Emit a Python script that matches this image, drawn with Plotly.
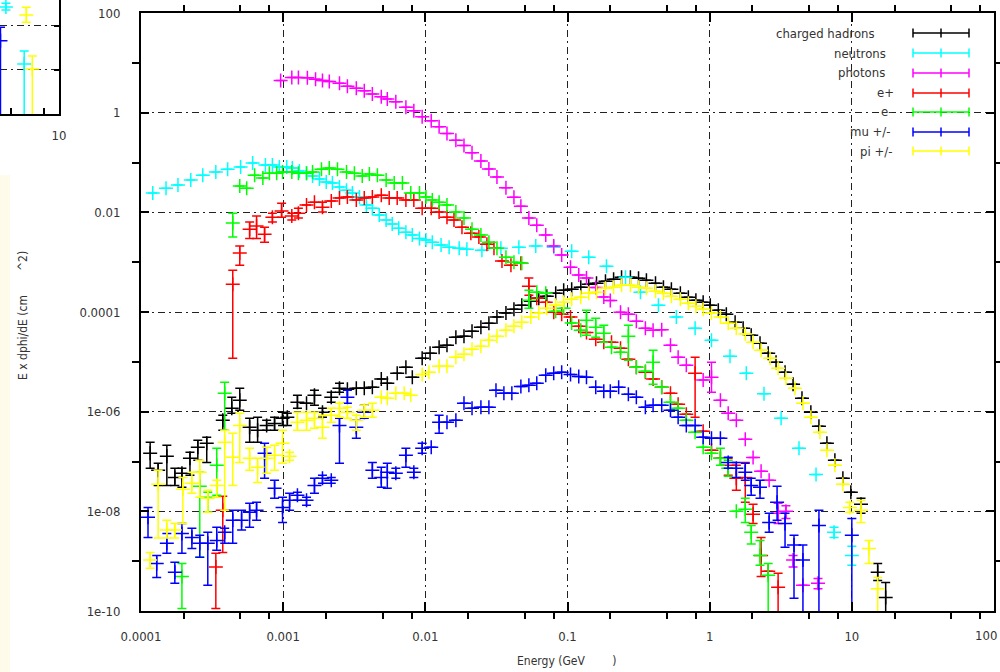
import plotly.graph_objects as go

# ---------------- data (E in GeV, flux E x dphi/dE) ----------------
# each series: energy, value, upper end of error bar, lower end (None = no visible bar)
had_E = [1.16e-4, 1.32e-4, 1.52e-4, 1.73e-4, 1.94e-4, 2.21e-4, 2.51e-4, 2.90e-4, 3.76e-4, 4.35e-4,
         4.95e-4, 5.81e-4, 6.61e-4, 7.65e-4, 8.7e-4, 9.9e-4, 1.07e-3, 1.26e-3, 1.46e-3, 1.66e-3,
         1.89e-3, 2.18e-3, 2.49e-3, 2.83e-3, 3.27e-3, 3.72e-3, 4.24e-3, 4.9e-3, 5.4e-3, 6.34e-3,
         7.3e-3, 8.1e-3, 9.5e-3, 0.0108, 0.0125, 0.0142, 0.0164, 0.0187, 0.0213, 0.0246,
         0.028, 0.0319, 0.0369, 0.042, 0.0477, 0.0552, 0.0628, 0.0715, 0.0826, 0.094,
         0.107, 0.124, 0.141, 0.160, 0.185, 0.211, 0.240, 0.277, 0.316, 0.359,
         0.416, 0.473, 0.538, 0.622, 0.708, 0.80, 0.90, 1.01, 1.15, 1.31,
         1.51, 1.72, 1.96, 2.26, 2.58, 2.93, 3.39, 3.86, 4.46, 5.15,
         5.87, 6.68, 7.6, 8.65, 9.84, 11.6, 15.2, 17.3]
had_V = [1.46e-7, 6.65e-8, 1.27e-7, 4.8e-8, 5.8e-8, 1.16e-7, 1.93e-7, 2.32e-7, 6.7e-7, 1.17e-6,
         1.69e-6, 4.86e-7, 4.24e-7, 5.3e-7, 5.8e-7, 7.4e-7, 7.7e-7, 1.55e-6, 1.48e-6, 2.13e-6,
         9.7e-7, 1.95e-6, 2.95e-6, 2.82e-6, 2.95e-6, 2.95e-6, 3.09e-6, 4.5e-6, 3.7e-6, 5.9e-6,
         7.8e-6, 4.9e-6, 1.18e-5, 1.49e-5, 1.96e-5, 2.15e-5, 3.12e-5, 3.27e-5, 4.1e-5, 4.95e-5,
         5.96e-5, 7.9e-5, 9.5e-5, 1.14e-4, 1.37e-4, 1.65e-4, 1.89e-4, 2.07e-4, 2.39e-4, 2.74e-4,
         2.87e-4, 3.15e-4, 3.61e-4, 3.79e-4, 4.15e-4, 4.56e-4, 5.0e-4, 5.0e-4, 4.77e-4, 4.35e-4,
         3.79e-4, 3.15e-4, 2.87e-4, 2.39e-4, 1.98e-4, 1.72e-4, 1.57e-4, 1.37e-4, 1.09e-4, 9.0e-5,
         6.2e-5, 4.73e-5, 3.42e-5, 2.36e-5, 1.49e-5, 9.8e-6, 6.2e-6, 3.55e-6, 1.86e-6, 9.7e-7,
         5.1e-7, 2.32e-7, 1.06e-7, 4.6e-8, 2.41e-8, 1.38e-8, 6.0e-10, 1.87e-10]
had_HI = [2.43e-7, 9.2e-8, 2.11e-7, 7.3e-8, 7.3e-8, 1.53e-7, 2.67e-7, 3.06e-7, 8.5e-7, 1.95e-6,
          2.95e-6, 7.4e-7, 7.7e-7, 6.7e-7, 7.7e-7, 9.7e-7, 9.3e-7, 2.13e-6, None, 2.69e-6,
          1.17e-6, 2.45e-6, 3.7e-6] + [None] * 62 + [1.82e-8, 9.0e-10, 3.75e-10]
had_LO = [7.3e-8, 3.3e-8, 3.3e-8, 3.3e-8, 3.03e-8, 5.3e-8, 1.06e-7, 9.6e-8, 4.24e-7, 9.3e-7,
          1.07e-6, 2.43e-7, 2.43e-7, 4.24e-7, 4.24e-7, 5.3e-7, 5.3e-7, 1.17e-6, None, 1.35e-6,
          7.7e-7, 1.55e-6, 2.45e-6] + [None] * 62 + [9.1e-9, 4.1e-10, 1e-12]

neu_E = [1.21e-4, 1.50e-4, 1.82e-4, 2.24e-4, 2.72e-4, 3.36e-4, 4.07e-4, 5.02e-4, 6.1e-4, 7.5e-4,
         8.4e-4, 9.4e-4, 1.06e-3, 1.16e-3, 1.30e-3, 1.46e-3, 1.61e-3, 1.80e-3, 2.01e-3, 2.22e-3,
         2.49e-3, 2.79e-3, 3.07e-3, 3.44e-3, 3.85e-3, 4.24e-3, 4.74e-3, 5.3e-3, 5.85e-3, 6.5e-3,
         7.3e-3, 8.1e-3, 9.1e-3, 0.0101, 0.0112, 0.0129, 0.0147, 0.0173, 0.0196, 0.025,
         0.034, 0.0455, 0.0598, 0.08, 0.107, 0.141, 0.188, 0.256, 0.326, 0.436,
         0.583, 0.79, 1.03, 1.39, 1.81, 2.41, 3.18, 4.25, 5.6, 7.5, 10.0]
neu_V = [0.0243, 0.0306, 0.0352, 0.0443, 0.0558, 0.0641, 0.0736, 0.0809, 0.0973, 0.0887,
         0.0887, 0.0809, 0.0809, 0.0772, 0.0672, 0.0612, 0.0533, 0.0464, 0.0404, 0.0386,
         0.0321, 0.0279, 0.0243, 0.0202, 0.0140, 0.0121, 0.0088, 0.0070, 0.0058, 0.0048,
         0.0040, 0.0035, 0.0030, 0.0028, 0.0025, 0.0022, 0.0020, 0.0019, 0.00182, 0.00174,
         0.0019, 0.0020, 0.0021, 0.0020, 0.00166, 0.00126, 8.3e-4, 5.0e-4, 2.5e-4, 1.37e-4,
         7.9e-5, 4.7e-5, 2.7e-5, 1.3e-5, 5.9e-6, 2.3e-6, 7.4e-7, 1.84e-7, 5.5e-8, 3.8e-9, 1.3e-9]
neu_HI = [None] * 59 + [4.8e-9, 2.0e-9]
neu_LO = [None] * 59 + [3.0e-9, 8.3e-10]

pho_E = [9.6e-4, 1.15e-3, 1.28e-3, 1.48e-3, 1.69e-3, 1.89e-3, 2.11e-3, 2.49e-3, 2.83e-3, 3.27e-3,
         3.72e-3, 4.24e-3, 4.9e-3, 5.4e-3, 6.2e-3, 7.3e-3, 8.3e-3, 9.5e-3, 0.011, 0.0125,
         0.0142, 0.0164, 0.0187, 0.0213, 0.0246, 0.028, 0.0319, 0.0369, 0.042, 0.047,
         0.0535, 0.0608, 0.0703, 0.08, 0.091, 0.105, 0.12, 0.136, 0.158, 0.18,
         0.20, 0.236, 0.268, 0.305, 0.353, 0.40, 0.46, 0.53, 0.60, 0.685,
         0.90, 1.03, 1.19, 1.35, 1.54, 1.78, 2.02, 2.30, 2.62, 3.03,
         3.44, 3.86, 4.53, 5.78]
pho_V = [4.4, 5.1, 5.1, 5.0, 4.7, 4.4, 4.2, 3.9, 3.4, 3.1,
         2.75, 2.36, 2.08, 1.87, 1.66, 1.28, 1.09, 0.83, 0.69, 0.52,
         0.38, 0.28, 0.22, 0.157, 0.107, 0.074, 0.051, 0.031, 0.020, 0.0133,
         0.0077, 0.0055, 0.0035, 0.0021, 0.0014, 7.9e-4, 5.5e-4, 4.8e-4, 3.1e-4, 2.0e-4,
         1.7e-4, 9.9e-5, 9.0e-5, 6.5e-5, 4.7e-5, 4.3e-5, 4.4e-5, 2.15e-5, 1.24e-5, 8.5e-6,
         4.3e-6, 4.9e-6, 1.7e-6, 9.3e-7, 6.7e-7, 2.8e-7, 1.2e-7, 6.4e-8, 4.2e-8, 9.1e-9,
         1.0e-8, 1.05e-9, 3.3e-10, 3.6e-10]
pho_HI = [None] * 51 + [9.8e-6] + [None] * 7 + [1.45e-8, 1.3e-8, 1.3e-9, None, 4.5e-10]
pho_LO = [None] * 51 + [2.45e-6] + [None] * 7 + [5.7e-9, 7.2e-9, 7.6e-10, None, 2.8e-10]

ep_E = [3.36e-4, 3.76e-4, 4.42e-4, 4.95e-4, 5.81e-4, 6.5e-4, 7.4e-4, 8.4e-4, 9.75e-4, 1.15e-3,
        1.28e-3, 1.46e-3, 1.66e-3, 1.89e-3, 2.18e-3, 2.49e-3, 2.83e-3, 3.27e-3, 3.72e-3, 4.24e-3,
        4.9e-3, 5.57e-3, 6.34e-3, 7.3e-3, 8.3e-3, 9.5e-3, 0.011, 0.0125, 0.0142, 0.0159,
        0.0181, 0.0209, 0.0238, 0.0271, 0.0304, 0.0346, 0.040, 0.047, 0.0535, 0.0608,
        0.0703, 0.08, 0.091, 0.105, 0.12, 0.136, 0.158, 0.18, 0.204, 0.236,
        0.268, 0.305, 0.353, 0.40, 0.46, 0.53, 0.60, 0.685, 0.79, 0.90,
        1.03, 1.19, 1.35, 1.54, 1.78, 2.02, 2.30, 2.58, 3.03]
ep_V = [7.6e-10, 1.05e-8, 3.6e-4, 1.52e-3, 4.6e-3, 5.3e-3, 3.65e-3, 8.0e-3, 0.0106, 8.4e-3,
        9.6e-3, 0.014, 0.016, 0.0127, 0.0168, 0.0193, 0.0202, 0.0176, 0.0193, 0.0202,
        0.0221, 0.0193, 0.0193, 0.0176, 0.0176, 0.0121, 0.0121, 0.0101, 8.0e-3, 7.0e-3,
        5.0e-3, 3.8e-3, 3.2e-3, 2.3e-3, 1.9e-3, 1.05e-3, 8.7e-4, 9.5e-4, 3.3e-4, 1.89e-4,
        1.57e-4, 9.9e-5, 9.0e-5, 7.9e-5, 5.2e-5, 3.9e-5, 2.84e-5, 2.48e-5, 2.48e-5, 1.87e-5,
        1.13e-5, 7.8e-6, 6.2e-6, 4.5e-6, 3.09e-6, 2.34e-6, 1.41e-6, 8.9e-7, 5.9e-6, 4.04e-7,
        1.68e-7, 1.16e-7, 8.4e-8, 4.6e-8, 4.8e-8, 8.7e-9, 1.3e-9, 6.3e-10, 3.0e-10]
ep_HI = [1.45e-9, 2.0e-8, 6.9e-4, 2.1e-3, 6.4e-3, 8.4e-3, 5.0e-3, 9.6e-3, 0.0153, 9.6e-3,
         0.0121, None, None, 0.016] + [None] * 24 + [4.8e-4] + [None] * 19 + [1.24e-5] + [None] * 3 + \
        [1.16e-7, 8.4e-8, 9.6e-8, 1.38e-8, 3.0e-9, None, 5.7e-10]
ep_LO = [1.12e-10, 1.5e-9, 1.18e-5, 8.7e-4, 3.0e-3, 3.0e-3, 2.5e-3, 6.4e-3, 8.0e-3, 7.0e-3,
         7.7e-3, None, None, 0.0101] + [None] * 24 + [2.17e-4] + [None] * 19 + [7.7e-7] + [None] * 3 + \
        [5.3e-8, 2.64e-8, 1.52e-8, 5.7e-9, 4.9e-10, None, 1e-12]

em_E = [1.94e-4, 2.59e-4, 2.95e-4, 3.41e-4, 3.88e-4, 4.42e-4, 4.95e-4, 5.54e-4, 6.3e-4, 7.2e-4,
        8.0e-4, 9.0e-4, 9.9e-4, 1.15e-3, 1.28e-3, 1.46e-3, 1.61e-3, 1.86e-3, 2.11e-3, 2.41e-3,
        2.79e-3, 3.17e-3, 3.6e-3, 4.04e-3, 4.6e-3, 5.3e-3, 6.04e-3, 6.9e-3, 7.9e-3, 9.1e-3,
        0.0101, 0.0112, 0.0125, 0.0142, 0.0164, 0.0187, 0.0213, 0.0246, 0.028, 0.0319,
        0.0369, 0.042, 0.0477, 0.0535, 0.0608, 0.0703, 0.0826, 0.094, 0.107, 0.124,
        0.136, 0.158, 0.18, 0.204, 0.236, 0.268, 0.305, 0.353, 0.40, 0.46,
        0.53, 0.60, 0.685, 0.79, 0.90, 1.03, 1.19, 1.35, 1.54, 1.78,
        1.96, 2.26, 2.58]
em_V = [4.95e-10, 3.18e-8, 1.91e-8, 8.4e-8, 2.34e-6, 6.1e-3, 0.0336, 0.0306, 0.0558, 0.0486,
        0.0612, 0.0612, 0.0641, 0.0641, 0.0612, 0.0612, 0.0641, 0.0736, 0.0772, 0.0736,
        0.0641, 0.0612, 0.0533, 0.0585, 0.0558, 0.0443, 0.0386, 0.0386, 0.0243, 0.0243,
        0.0202, 0.0176, 0.016, 0.014, 0.0101, 7.7e-3, 4.6e-3, 3.5e-3, 2.5e-3, 1.9e-3,
        1.26e-3, 1.0e-3, 9.5e-4, 1.72e-4, 2.5e-4, 2.39e-4, 1.04e-4, 1.19e-4, 6.0e-5, 4.3e-5,
        6.8e-5, 4.95e-5, 3.75e-5, 1.96e-5, 1.56e-5, 3.27e-5, 7.8e-6, 6.5e-6, 9.8e-6, 3.09e-6,
        1.55e-6, 1.17e-6, 6.7e-7, 3.86e-7, 1.93e-7, 1.46e-7, 1.16e-7, 7.3e-8, 1.0e-8, 1.1e-8,
        3.8e-9, 1.3e-9, 5.2e-10]
em_HI = [9.0e-10, 6.1e-8, 2.41e-8, 1.84e-7, 3.9e-6, 9.6e-3] + [None] * 37 + [2.74e-4] + [None] * 6 + \
        [1.09e-4, 7.5e-5, 5.4e-5, None, None, 5.4e-5, None, None, 1.71e-5] + [None] * 7 + \
        [1.84e-7, 1.06e-7, None, 1.82e-8, 5.2e-9, 2.6e-9, 9.0e-10]
em_LO = [1.12e-10, 1.2e-9, 9.6e-9, 2.1e-8, 4.24e-7, 3.2e-3] + [None] * 37 + [1.19e-4] + [None] * 6 + \
        [3.42e-5, 3.12e-5, 2.48e-5, None, None, 1.08e-5, None, None, 3.55e-6] + [None] * 7 + \
        [8.4e-8, 5.05e-8, None, 6.0e-9, 2.2e-9, 8.3e-10, 1e-12]

mu_E = [1.12e-4, 1.29e-4, 1.52e-4, 1.73e-4, 1.94e-4, 2.28e-4, 2.59e-4, 2.95e-4, 3.41e-4, 3.88e-4,
        4.42e-4, 5.1e-4, 5.81e-4, 6.5e-4, 7.4e-4, 8.7e-4, 9.9e-4, 1.11e-3, 1.26e-3, 1.46e-3,
        1.66e-3, 1.89e-3, 2.18e-3, 2.49e-3, 2.83e-3, 3.27e-3, 3.72e-3, 4.24e-3, 4.9e-3, 5.4e-3,
        6.2e-3, 7.3e-3, 8.3e-3, 9.5e-3, 0.011, 0.0125, 0.0142, 0.0164, 0.0187, 0.0213,
        0.0246, 0.028, 0.0314, 0.0357, 0.0406, 0.047, 0.0535, 0.0608, 0.0703, 0.08,
        0.091, 0.105, 0.12, 0.136, 0.158, 0.18, 0.20, 0.229, 0.268, 0.305,
        0.353, 0.40, 0.46, 0.53, 0.60, 0.685, 0.79, 0.90, 1.03, 1.19,
        1.35, 1.54, 1.78, 1.96, 2.26, 2.62, 2.98, 3.39, 3.92, 4.53,
        5.87, 10.0]
mu_V = [7.6e-9, 9.0e-10, 2.3e-9, 6.0e-10, 3.6e-9, 3.0e-9, 2.3e-9, 2.3e-9, 2.6e-9, 3.8e-9,
        6.6e-9, 6.6e-9, 9.6e-9, 1.05e-8, 1.46e-7, 2.9e-8, 1.2e-8, 1.66e-8, 2.1e-8, 1.66e-8,
        3.3e-8, 4.6e-8, 4.2e-8, 5.3e-7, 1.95e-6, 4.86e-7, 9.7e-7, 6.65e-8, 4.8e-8, 6.1e-8,
        5.8e-8, 1.33e-7, 6.1e-8, 1.84e-7, 1.93e-7, 6.1e-7, 6.1e-7, 6.7e-7, 1.48e-6, 1.17e-6,
        1.23e-6, 1.23e-6, 2.69e-6, 2.34e-6, 2.34e-6, 3.2e-6, 3.4e-6, 3.7e-6, 5.4e-6, 5.9e-6,
        6.2e-6, 5.6e-6, 5.1e-6, 4.9e-6, 3.09e-6, 2.57e-6, 2.57e-6, 3.09e-6, 2.23e-6, 1.95e-6,
        1.23e-6, 1.35e-6, 1.35e-6, 1.07e-6, 7.7e-7, 5.3e-7, 5.3e-7, 3.06e-7, 2.92e-7, 2.92e-7,
        9.6e-8, 7.3e-8, 6.1e-8, 3.3e-8, 3.03e-8, 6.0e-9, 1.52e-8, 5.7e-9, 2.1e-9, 1.05e-9,
        5.2e-9, 3.3e-9]
mu_HI = [1.2e-8, 1.3e-9, 3.6e-9, 9.5e-10, 5.7e-9, 4.6e-9, 3.3e-9, 3.8e-9, 4.8e-9, 4.6e-9,
         1.05e-8, 1.05e-8, 1.45e-8, 1.52e-8, 2.32e-7, 4.2e-8, 1.91e-8, 2.3e-8, 2.41e-8, 1.91e-8,
         4.6e-8, 5.3e-8, 4.8e-8, 7.4e-7, 2.69e-6, 6.7e-7, 1.35e-6, 9.6e-8, 7.7e-8, 9.2e-8,
         7.3e-8, 1.84e-7, 7.3e-8, 2.32e-7, None, 8.5e-7] + [None] * 34 + \
        [1.21e-7, 9.6e-8, 9.2e-8, 4.6e-8, 4.2e-8, 9.1e-9, 3.18e-8, 9.1e-9, 3.3e-9, 2.1e-9,
         1.05e-8, 7.2e-9]
mu_LO = [3.0e-9, 4.7e-10, 1.45e-9, 3.6e-10, 1.45e-9, 1.8e-9, 1.2e-9, 3.3e-10, 1.65e-9, 2.3e-9,
         2.3e-9, 4.2e-9, 4.8e-9, 6.6e-9, 4.6e-8, 1.82e-8, 6.0e-9, 1.05e-8, 1.66e-8, 1.32e-8,
         2.3e-8, 3.65e-8, 3.65e-8, 9.2e-8, 1.48e-6, 2.92e-7, 7.4e-7, 4.6e-8, 3.03e-8, 2.9e-8,
         4.6e-8, 7.7e-8, 4.8e-8, 1.46e-7, None, 3.68e-7] + [None] * 34 + \
        [7.3e-8, 4.8e-8, 4.2e-8, 2.1e-8, 1.82e-8, 3.8e-9, 6.6e-9, 1.9e-9, 1.8e-10, 1e-12,
         1e-12, 1e-12]

pi_E = [1.16e-4, 1.32e-4, 1.52e-4, 1.73e-4, 1.97e-4, 2.28e-4, 2.59e-4, 2.95e-4, 3.41e-4, 3.88e-4,
        4.42e-4, 4.95e-4, 5.81e-4, 6.61e-4, 7.65e-4, 8.7e-4, 9.9e-4, 1.11e-3, 1.26e-3, 1.46e-3,
        1.66e-3, 1.89e-3, 2.18e-3, 2.49e-3, 2.83e-3, 3.27e-3, 3.72e-3, 4.24e-3, 4.9e-3, 5.4e-3,
        6.2e-3, 7.1e-3, 7.9e-3, 9.5e-3, 0.0106, 0.0125, 0.0142, 0.0164, 0.0187, 0.0213,
        0.0246, 0.028, 0.0319, 0.0369, 0.042, 0.0477, 0.0552, 0.0628, 0.0715, 0.0826,
        0.094, 0.107, 0.124, 0.141, 0.160, 0.185, 0.211, 0.240, 0.277, 0.316,
        0.359, 0.416, 0.473, 0.538, 0.622, 0.708, 0.80, 0.90, 1.03, 1.19,
        1.35, 1.54, 1.78, 2.02, 2.30, 2.66, 3.03, 3.44, 3.98, 4.53,
        5.15, 5.97, 6.68, 7.6, 8.65, 9.68, 11.6, 13.2, 15.2]
pi_V = [1.05e-9, 3.48e-8, 4.2e-9, 4.2e-9, 2.77e-8, 3.65e-8, 6.1e-8, 1.82e-8, 3.3e-8, 2.43e-7,
        1.21e-7, 5.3e-7, 1.16e-7, 7.7e-8, 1.16e-7, 1.33e-7, 2.32e-7, 1.27e-7, 6.1e-7, 6.7e-7,
        7.4e-7, 4.86e-7, 8.5e-7, 1.17e-6, 9.7e-7, 6.7e-7, 1.07e-6, 1.07e-6, 1.95e-6, 1.86e-6,
        2.34e-6, 2.34e-6, 2.13e-6, 5.6e-6, 6.2e-6, 8.2e-6, 8.2e-6, 1.24e-5, 1.42e-5, 1.79e-5,
        2.06e-5, 2.7e-5, 3.27e-5, 4.3e-5, 5.2e-5, 6.2e-5, 7.9e-5, 9.5e-5, 1.19e-4, 1.37e-4,
        1.57e-4, 1.81e-4, 1.98e-4, 2.39e-4, 2.5e-4, 3.0e-4, 3.15e-4, 3.45e-4, 3.45e-4, 3.15e-4,
        3.0e-4, 2.62e-4, 2.39e-4, 2.07e-4, 1.81e-4, 1.50e-4, 1.31e-4, 1.14e-4, 9.5e-5, 7.9e-5,
        5.96e-5, 4.73e-5, 3.6e-5, 2.48e-5, 1.71e-5, 1.18e-5, 7.4e-6, 4.7e-6, 2.95e-6, 1.48e-6,
        7.7e-7, 3.86e-7, 1.68e-7, 8.4e-8, 3.48e-8, 1.2e-8, 1.05e-8, 1.8e-9, 2.8e-10]
pi_HI = [1.5e-9, 6.65e-8, 6.6e-9, 5.7e-9, 4.8e-8, 6.1e-8, 1.06e-7, 2.64e-8, 4.2e-8, 4.24e-7,
         3.68e-7, 9.3e-7, 1.84e-7, 1.16e-7, 1.93e-7, 2.11e-7, 4.24e-7, 1.53e-7, 9.7e-7, 9.7e-7,
         9.7e-7, 8.5e-7, 1.17e-6, 1.48e-6, 1.23e-6, 8.5e-7, 1.35e-6, 1.48e-6] + [None] * 57 + \
        [1.52e-8, 1.66e-8, 2.6e-9, 4.7e-10]
pi_LO = [7.2e-10, 2.9e-9, 2.9e-9, 2.9e-9, 5.7e-9, 2.3e-8, 1.91e-8, 9.6e-9, 1.91e-8, 1.05e-8,
         3.3e-8, 9.6e-8, 6.65e-8, 3.8e-8, 5.8e-8, 6.65e-8, 9.2e-8, 1.06e-7, 4.24e-7, 4.24e-7,
         4.65e-7, 2.92e-7, 6.1e-7, 7.7e-7, 7.4e-7, 4.24e-7, 7.7e-7, 7.7e-7] + [None] * 57 + \
        [9.6e-9, 6.0e-9, 9.0e-10, 1e-12]

# fragment of the neighbouring plot visible in the top-left corner
ins_cyan_x = [1.0, 4.1]
ins_cyan_V = [2.7e-5, 1.37e-6]
ins_cyan_HI = [3.3e-5, 2.7e-6]
ins_cyan_LO = [2.3e-5, 1e-12]
ins_yel_x = [4.46, 5.48]
ins_yel_V = [1.78e-5, 1.05e-6]
ins_yel_HI = [2.66e-5, 2.08e-6]
ins_yel_LO = [1.21e-5, 1e-12]
ins_blue_x = [0.08]
ins_blue_V = [4.6e-6]
ins_blue_HI = [9.3e-6]
ins_blue_LO = [1e-12]

x_ticks = [1e-4, 1e-3, 1e-2, 1e-1, 1, 10, 100]
x_ticktext = ["0.0001", "0.001", "0.01", "0.1", "1", "10", ""]   # "100" placed as an edge label
y_ticks = [1e-10, 1e-8, 1e-6, 1e-4, 1e-2, 1, 100]
y_ticktext = ["1e-10", "1e-08", "1e-06", "0.0001", "0.01", "1", "100"]

series = [
    ("charged hadrons", "#000000", had_E, had_V, had_HI, had_LO),
    ("neutrons", "#00FFFF", neu_E, neu_V, neu_HI, neu_LO),
    ("photons", "#FF00FF", pho_E, pho_V, pho_HI, pho_LO),
    ("e+", "#FF0000", ep_E, ep_V, ep_HI, ep_LO),
    ("e-", "#00FF00", em_E, em_V, em_HI, em_LO),
    ("mu +/-", "#0000FF", mu_E, mu_V, mu_HI, mu_LO),
    ("pi +/-", "#FFFF00", pi_E, pi_V, pi_HI, pi_LO),
]

FONT = "DejaVu Sans Condensed, Liberation Sans Narrow, DejaVu Sans, sans-serif"
W, H = 1000, 672


def px(x):
    return x / W


def py(y):
    return (H - y) / H


def err_arrays(v, hi, lo):
    plus = [(h - a) if h is not None else 0 for a, h in zip(v, hi)]
    minus = [(a - l) if l is not None else 0 for a, l in zip(v, lo)]
    return plus, minus


fig = go.Figure()


def add_series(x, v, hi, lo, color, xa="x", ya="y", name=None):
    plus, minus = err_arrays(v, hi, lo)
    fig.add_trace(go.Scatter(
        x=x, y=v, mode="markers", name=name, showlegend=False,
        xaxis=xa, yaxis=ya,
        marker=dict(symbol="cross-thin", size=10, color=color,
                    line=dict(width=1.5, color=color)),
        error_y=dict(type="data", symmetric=False, array=plus, arrayminus=minus,
                     color=color, thickness=1.5, width=4.5),
    ))


for name, color, x, v, hi, lo in series:
    add_series(x, v, hi, lo, color, name=name)

add_series(ins_blue_x, ins_blue_V, ins_blue_HI, ins_blue_LO, "#0000FF", "x2", "y2")
add_series(ins_cyan_x, ins_cyan_V, ins_cyan_HI, ins_cyan_LO, "#00FFFF", "x2", "y2")
add_series(ins_yel_x, ins_yel_V, ins_yel_HI, ins_yel_LO, "#FFFF00", "x2", "y2")

GRID = dict(showgrid=True, gridcolor="#222222", gridwidth=1.3, griddash="7px,4px,2px,4px")
AX = dict(ticks="inside", tickcolor="black", tickwidth=1.5, showline=True, linecolor="black",
          linewidth=2, mirror="allticks", zeroline=False, automargin=False,
          ticklabeloverflow="allow",
          tickfont=dict(family=FONT, size=13, color="#333333"))

shapes = [
    # cream strip at the very left edge
    dict(type="rect", xref="paper", yref="paper", x0=0, x1=px(10), y0=0, y1=py(175),
         fillcolor="#FFFBEA", line=dict(width=0), layer="below"),
    # opaque key box
    dict(type="rect", xref="paper", yref="paper", x0=px(748), x1=px(993), y0=py(158), y1=py(14),
         fillcolor="white", line=dict(width=0), layer="between"),
]
annotations = []
legend_rows = [33, 53, 73, 93, 112, 132, 151]
legend_right = [877, 888, 887, 896, 894, 893, 894]
for (name, color, *_), ry, rx in zip(series, legend_rows, legend_right):
    annotations.append(dict(text=name, x=px(rx), y=py(ry), xref="paper", yref="paper",
                            xanchor="right", yanchor="middle", showarrow=False,
                            font=dict(family=FONT, size=13, color="#333333")))
    shapes.append(dict(type="line", xref="paper", yref="paper", x0=px(913), x1=px(969),
                       y0=py(ry), y1=py(ry), line=dict(color=color, width=1.5)))
    for tx in (913, 941, 969):
        shapes.append(dict(type="line", xref="paper", yref="paper", x0=px(tx), x1=px(tx),
                           y0=py(ry - 4.5), y1=py(ry + 4.5), line=dict(color=color, width=1.5)))

annotations.append(dict(text="E x dphi/dE (cm       ^2)", x=px(23), y=py(316), xref="paper",
                        yref="paper", textangle=-90, showarrow=False, xanchor="center",
                        yanchor="middle", font=dict(family=FONT, size=12, color="#333333")))
annotations.append(dict(text="Energy (GeV        )", x=px(566), y=py(661), xref="paper",
                        yref="paper", showarrow=False, xanchor="center", yanchor="middle",
                        font=dict(family=FONT, size=12, color="#333333")))
# last x tick label, kept inside the page at the right edge
annotations.append(dict(text="100", x=1.0, y=py(635), xref="paper", yref="paper",
                        showarrow=False, xanchor="right", yanchor="middle", xshift=-1,
                        font=dict(family=FONT, size=13, color="#333333")))

fig.update_layout(
    width=W, height=H, margin=dict(l=0, r=0, t=0, b=0, pad=0, autoexpand=False),
    paper_bgcolor="white", plot_bgcolor="rgba(0,0,0,0)",
    showlegend=False,
    xaxis=dict(type="log", range=[-4, 2], domain=[px(141), px(994)], anchor="y",
               tickmode="array", tickvals=x_ticks, ticktext=x_ticktext, ticklen=9,
               ticklabelstandoff=12,
               minor=dict(tickmode="array",
                          tickvals=[m * 10.0 ** d for d in range(-4, 2) for m in (2, 5, 8)],
                          ticklen=6, tickcolor="black", tickwidth=1.5, showgrid=False),
               **GRID, **AX),
    yaxis=dict(type="log", range=[-10, 2], domain=[py(611), py(13)], anchor="x",
               tickmode="array", tickvals=y_ticks, ticktext=y_ticktext, ticklen=8,
               ticklabelstandoff=16,
               minor=dict(tickmode="array", tickvals=[1e-9, 1e-7, 1e-5, 1e-3, 1e-1, 10],
                          ticklen=7, tickcolor="black", tickwidth=1.5, showgrid=False),
               **GRID, **AX),
    xaxis2=dict(type="linear", range=[0, 10], domain=[0, px(59)], anchor="y2",
                tickmode="array", tickvals=[1.8, 7.5, 10], ticktext=["", "", "10"],
                ticks="inside", ticklen=6, tickcolor="black", tickwidth=1.5, automargin=False,
                ticklabeloverflow="allow",
                showline=True, linecolor="black", linewidth=2, showgrid=False, zeroline=False,
                ticklabelstandoff=8, tickfont=dict(family=FONT, size=13, color="#333333")),
    yaxis2=dict(type="log", range=[-7, -4.41], domain=[py(114), 1], anchor="x2", side="right",
                tickmode="array", tickvals=[1e-6, 1e-5], ticks="inside", ticklen=5,
                tickcolor="black", tickwidth=1.5, showticklabels=False, automargin=False,
                showline=True, linecolor="black", linewidth=2, zeroline=False,
                **GRID),
    shapes=shapes, annotations=annotations,
)

fig.write_html("out.html")
